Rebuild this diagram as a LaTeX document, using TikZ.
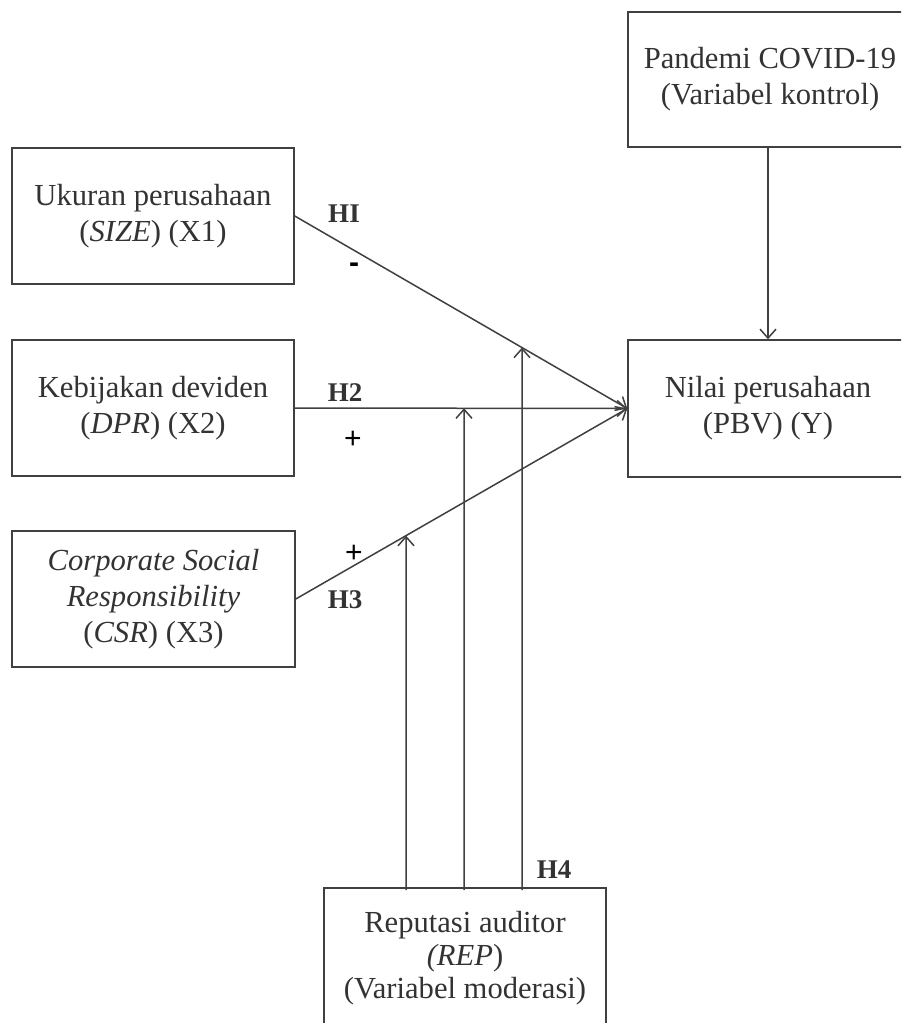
\documentclass[tikz,border=0pt]{standalone}
\usepackage{fontspec}
\setmainfont{Liberation Serif}
\newfontfamily\plusfont{Liberation Sans}
\usetikzlibrary{arrows.meta,intersections}
\definecolor{ln}{HTML}{404040}
\definecolor{tx}{HTML}{333333}
\begin{document}
\begin{tikzpicture}[x=0.5pt,y=-0.5pt,
  box/.style={draw=ln, line width=0.75pt, rectangle, inner sep=0pt, align=center,
    text=tx, font=\fontsize{15.3}{18}\selectfont},
  arr/.style={draw=ln, line width=0.75pt, -{Straight Barb[length=4.5pt,width=8pt]}},
  hlab/.style={text=tx, font=\fontsize{13.5}{16}\selectfont\bfseries, inner sep=0pt},
  sign/.style={text=black, font=\fontsize{15}{16}\selectfont\plusfont, inner sep=0pt}]
\clip (0,0) rectangle (901,1023);
\fill[white] (0,0) rectangle (901,1023);
% boxes
\node[box, minimum width=141pt, minimum height=68pt] (X1) at (153,216)
  {Ukuran perusahaan\\(\textit{SIZE}) (X1)};
\node[box, minimum width=141pt, minimum height=68pt] (X2) at (153,408)
  {Kebijakan deviden\\(\textit{DPR}) (X2)};
\node[box, minimum width=141.5pt, minimum height=68pt] (X3) at (153.5,599)
  {\textit{Corporate Social}\\\textit{Responsibility}\\(\textit{CSR}) (X3)};
\node[box, minimum width=140pt, minimum height=68.5pt] (Y) at (768,408.5)
  {Nilai perusahaan\\(PBV) (Y)};
\node[box, minimum width=142pt, minimum height=67.5pt] (C) at (770,79.5)
  {Pandemi COVID-19\\(Variabel kontrol)};
\node[box, minimum width=141pt, minimum height=70pt,
  font=\fontsize{15.3}{16.5}\selectfont] (R) at (465,958)
  {Reputasi auditor\\\textit{(REP})\\(Variabel moderasi)};
% main paths
\draw[arr, name path=h1] (X1.east) -- (Y.west);
\draw[arr, name path=h2] (X2.east) -- (Y.west);
\draw[arr, name path=h3] (X3.east) -- (Y.west);
\draw[arr] (C.south -| Y.north) -- (Y.north);
% moderation
\coordinate (b3) at (406,890);
\coordinate (b2) at (464,890);
\coordinate (b1) at (522,890);
\path[name path=v3] (406,0) -- (406,1023);
\path[name path=v2] (464,0) -- (464,1023);
\path[name path=v1] (522,0) -- (522,1023);
\path[name intersections={of=h3 and v3, by=m3}];
\path[name intersections={of=h2 and v2, by=m2}];
\path[name intersections={of=h1 and v1, by=m1}];
\draw[arr] (b3) -- (m3);
\draw[arr] (b2) -- (m2);
\draw[arr] (b1) -- (m1);
% labels
\node[hlab] (l1) at (344,214) {HI};
\node[sign, font=\fontsize{15}{16}\selectfont\plusfont\bfseries] (s1) at (354,268) {-};
\node[hlab] (l2) at (345,393) {H2};
\node[sign] (s2) at (353,440) {+};
\node[sign] (s3) at (354,554) {+};
\node[hlab] (l3) at (345,600) {H3};
\node[hlab] (l4) at (554,870) {H4};
\end{tikzpicture}
\end{document}
